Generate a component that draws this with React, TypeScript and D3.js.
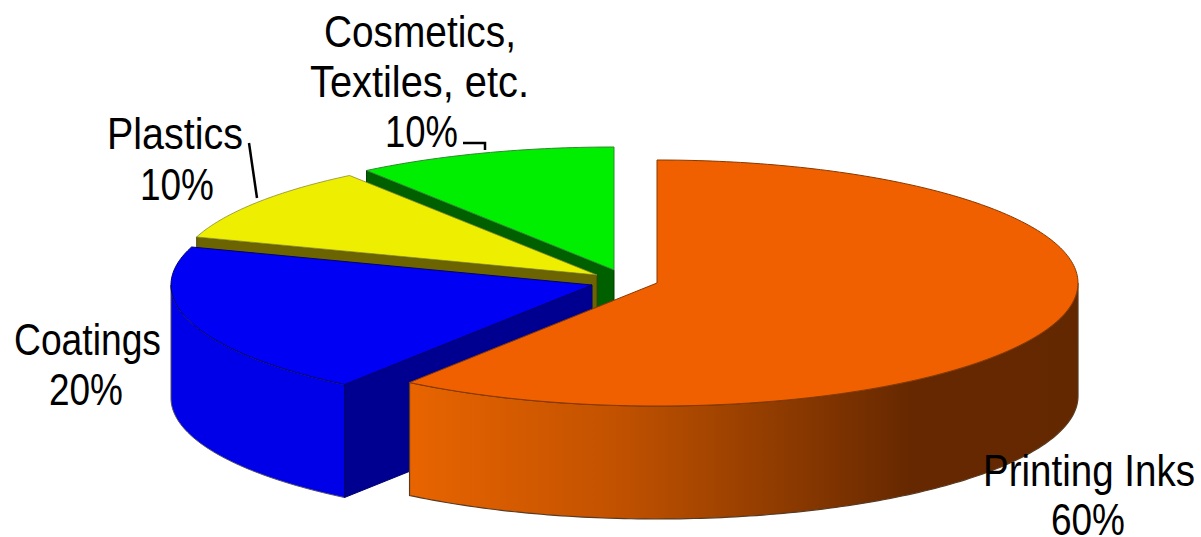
import React from "react";
import * as d3 from "d3";

const categories = ["Printing Inks", "Coatings", "Plastics", "Cosmetics, Textiles, etc."];
const shares = [60, 20, 10, 10];
const topColors = ["#f06000", "#0000f4", "#eeee00", "#00ee00"];
const cutColors = ["#7a3000", "#000090", "#6b6400", "#006000"];
const edgeColors = ["#8a3800", "#000070", "#5a5400", "#2f8a2f"];
const centersX = [657, 592, 597, 614];
const centersY = [283, 285, 275, 270];

const W = 1201, H = 537, RX = 421, RY = 123, DEPTH = 113;
const FONT_SIZE = 43.5;
const FONT = "'Liberation Sans', Arial, sans-serif";

const labelLines = [
  { text: "Cosmetics,", x0: 324, x1: 516, y: 47 },
  { text: "Textiles, etc.", x0: 310, x1: 529, y: 97 },
  { text: "10%", x0: 385, x1: 458, y: 147 },
  { text: "Plastics", x0: 107, x1: 243, y: 149 },
  { text: "10%", x0: 140, x1: 214, y: 200 },
  { text: "Coatings", x0: 14, x1: 161, y: 355 },
  { text: "20%", x0: 49, x1: 123, y: 405 },
  { text: "Printing Inks", x0: 983, x1: 1195, y: 486 },
  { text: "60%", x0: 1051, x1: 1125, y: 535 },
];
const leaders = [
  [[249, 143], [257, 198]],
  [[463, 143], [485, 143], [485, 150]],
];

const gradientStops = [
  { o: 0, c: "#e86400" },
  { o: 0.3, c: "#c35200" },
  { o: 0.46, c: "#a24400" },
  { o: 0.75, c: "#662800" },
  { o: 1, c: "#642800" },
];

const arcs = d3.pie<number>().sort(null).startAngle(0).endAngle(2 * Math.PI)(shares);
const line = d3.line<[number, number]>().curve(d3.curveLinear);

function pt(i: number, a: number, dy = 0): [number, number] {
  return [centersX[i] + RX * Math.sin(a), centersY[i] - RY * Math.cos(a) + dy];
}
function rim(i: number, a0: number, a1: number, dy = 0): [number, number][] {
  const n = Math.max(2, Math.ceil(Math.abs(a1 - a0) * 60));
  return d3.range(n + 1).map((k) => pt(i, a0 + ((a1 - a0) * k) / n, dy));
}
const top = (i: number) => {
  const a = arcs[i];
  return line([[centersX[i], centersY[i]], ...rim(i, a.startAngle, a.endAngle)])! + "Z";
};
const cut = (i: number, a: number) => {
  const c: [number, number] = [centersX[i], centersY[i]];
  const p = pt(i, a);
  return line([c, p, [p[0], p[1] + DEPTH], [c[0], c[1] + DEPTH]])! + "Z";
};
const side = (i: number, a0: number, a1: number) =>
  line([...rim(i, a0, a1), ...rim(i, a1, a0, DEPTH)])! + "Z";

const ctx = document.createElement("canvas").getContext("2d")!;
ctx.font = `${FONT_SIZE}px 'Liberation Sans'`;
const squeeze = (t: { text: string; x0: number; x1: number }) =>
  (t.x1 - t.x0) / ctx.measureText(t.text).width;

export default function App() {
  const [orange, blue, yellow, green] = arcs;
  const vis = (a: number) => Math.min(a, 1.5 * Math.PI);
  return (
    <svg width={W} height={H} viewBox={`0 0 ${W} ${H}`}
      style={{ position: "absolute", left: 0, top: 0, background: "#fff" }}>
      <defs>
        <linearGradient id="orangeSide" gradientUnits="userSpaceOnUse" x1={411} x2={1078} y1={0} y2={0}>
          {gradientStops.map((s) => <stop key={s.o} offset={s.o} stopColor={s.c} />)}
        </linearGradient>
      </defs>

      {/* Cosmetics */}
      <path d={cut(3, green.startAngle)} fill={cutColors[3]} stroke="#003f00" strokeWidth={1} />
      <path d={top(3)} fill={topColors[3]} stroke={edgeColors[3]} strokeWidth={1} />

      {/* Plastics */}
      <path d={cut(2, yellow.startAngle)} fill={cutColors[2]} stroke="#3d3a00" strokeWidth={0.8} />
      <path d={top(2)} fill={topColors[2]} stroke="#8a8a30" strokeWidth={0.8} />

      {/* Coatings */}
      <path d={side(1, blue.startAngle, vis(blue.endAngle))} fill="#0000e8" stroke="#50506a" strokeWidth={1} />
      <path d={cut(1, blue.startAngle)} fill={cutColors[1]} stroke={edgeColors[1]} strokeWidth={1} />
      <path d={top(1)} fill={topColors[1]} stroke={edgeColors[1]} strokeWidth={1} />

      {/* Printing Inks */}
      <path d={side(0, Math.PI / 2, orange.endAngle)} fill="url(#orangeSide)" stroke="#5a3a20" strokeWidth={1.2} />
      <path d={top(0)} fill={topColors[0]} stroke={edgeColors[0]} strokeWidth={1} />

      {leaders.map((l, i) => (
        <path key={i} d={line(l as [number, number][])!} fill="none" stroke="#000" strokeWidth={2.5} />
      ))}
      {labelLines.map((t, i) => (
        <text key={i} transform={`translate(${t.x0},${t.y}) scale(${squeeze(t)},1)`}
          fontFamily={FONT} fontSize={FONT_SIZE} fill="#000">{t.text}</text>
      ))}
      <title>{categories.join(", ")}</title>
    </svg>
  );
}
